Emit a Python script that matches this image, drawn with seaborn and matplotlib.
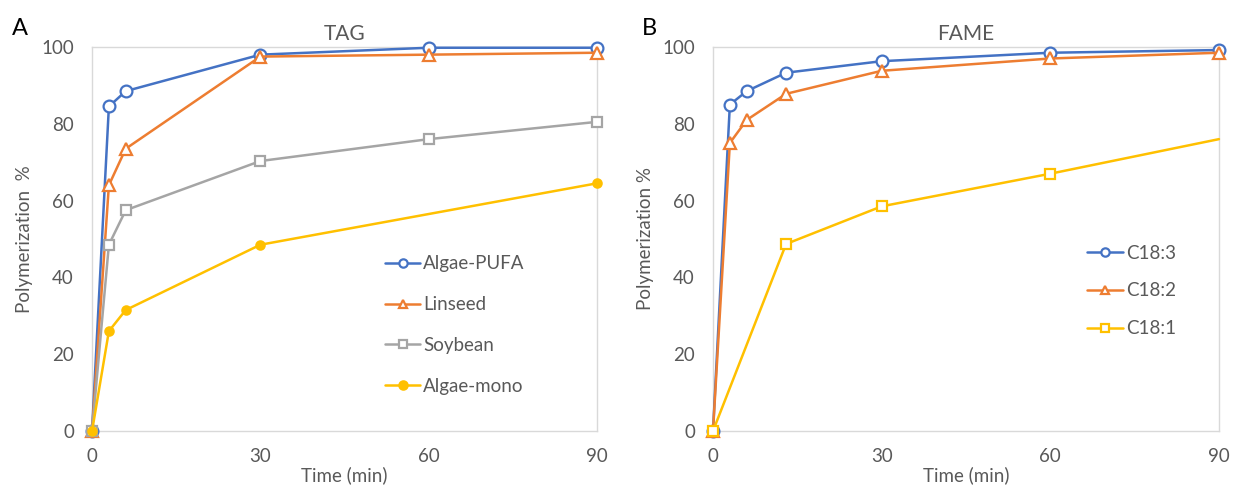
import numpy as np
import pandas as pd
import matplotlib
matplotlib.use("Agg")
import matplotlib.pyplot as plt
import seaborn as sns

# ==========================
# Dane
# ==========================
tag_time = [0, 3, 6, 30, 60, 90]
tag_algae_pufa = [0, 84.5, 88.5, 98.0, 99.8, 99.8]
tag_linseed = [0, 64.0, 73.5, 97.5, 98.0, 98.5]
tag_soybean = [0, 48.5, 57.5, 70.3, 76.0, 80.5]
tag_mono_time = [0, 3, 6, 30, 90]
tag_algae_mono = [0, 26.0, 31.5, 48.5, 64.5]

fame_time = [0, 3, 6, 13, 30, 60, 90]
fame_c183 = [0, 85.0, 88.5, 93.3, 96.3, 98.5, 99.2]
fame_c182 = [0, 75.0, 81.0, 87.8, 93.8, 97.0, 98.5]
fame_c181_time = [0, 13, 30, 60, 90]
fame_c181 = [0, 48.7, 58.5, 67.0, 76.0]

x_ticks = [0, 30, 60, 90]
y_ticks = [0, 20, 40, 60, 80, 100]

BLUE = "#4472C4"
ORANGE = "#ED7D31"
GRAY = "#A5A5A5"
GOLD = "#FFC000"
TEXT = "#595959"
FS = 13.5

sns.set_theme(style="white")
plt.rcParams['font.family'] = ['Lato', 'DejaVu Sans']


def draw_series(ax, x, y, label, color, marker, filled=False, ms=8, markevery=None):
    df = pd.DataFrame({"t": x, "v": y})
    sns.lineplot(data=df, x="t", y="v", ax=ax, color=color, label=label,
                 marker=marker, markersize=ms, linewidth=1.8,
                 markerfacecolor=color if filled else "white",
                 markeredgecolor=color, markeredgewidth=1.6,
                 markevery=markevery, clip_on=False, zorder=3)


def style_axes(ax, title):
    ax.set_xlim(0, 90)
    ax.set_ylim(0, 100)
    ax.set_xticks(x_ticks)
    ax.set_yticks(y_ticks)
    ax.tick_params(axis="both", length=0, labelsize=FS, labelcolor=TEXT)
    ax.tick_params(axis="y", pad=13)
    ax.tick_params(axis="x", pad=12)
    for sp in ax.spines.values():
        sp.set_color("#D9D9D9")
        sp.set_linewidth(1.0)
    ax.set_title(title, fontsize=15, color=TEXT, pad=5)
    ax.set_xlabel("Time (min)", fontsize=FS, color=TEXT, labelpad=1)


def style_legend(leg):
    for t in leg.get_texts():
        t.set_color(TEXT)
    for h in leg.legend_handles:
        h.set_markersize(6)


fig = plt.figure(figsize=(12.34, 4.95), dpi=100)
ax_a = fig.add_axes([0.0746, 0.1293, 0.4092, 0.7758])
ax_b = fig.add_axes([0.5778, 0.1293, 0.4100, 0.7758])

# --- Panel A: TAG ---
draw_series(ax_a, tag_time, tag_algae_pufa, "Algae-PUFA", BLUE, "o", ms=8.5)
draw_series(ax_a, tag_time, tag_linseed, "Linseed", ORANGE, "^", ms=9)
draw_series(ax_a, tag_time, tag_soybean, "Soybean", GRAY, "s", ms=7.5)
draw_series(ax_a, tag_mono_time, tag_algae_mono, "Algae-mono", GOLD, "o", filled=True, ms=6)
style_axes(ax_a, "TAG")
ax_a.set_ylabel("Polymerization  %", fontsize=FS, color=TEXT, labelpad=6)
leg = ax_a.legend(loc="lower left", bbox_to_anchor=(0.565, 0.075), frameon=False,
                  fontsize=FS, labelspacing=1.27, handlelength=1.9, handletextpad=0.15,
                  borderaxespad=0)
style_legend(leg)

# --- Panel B: FAME ---
draw_series(ax_b, fame_time, fame_c183, "C18:3", BLUE, "o", ms=8.5)
draw_series(ax_b, fame_time, fame_c182, "C18:2", ORANGE, "^", ms=9)
draw_series(ax_b, fame_c181_time, fame_c181, "C18:1", GOLD, "s", ms=7.5, markevery=[0, 1, 2, 3])
style_axes(ax_b, "FAME")
ax_b.set_ylabel("Polymerization %", fontsize=FS, color=TEXT, labelpad=6)
leg = ax_b.legend(loc="lower left", bbox_to_anchor=(0.725, 0.225), frameon=False,
                  fontsize=FS, labelspacing=1.1, handlelength=1.9, handletextpad=0.15,
                  borderaxespad=0)
style_legend(leg)

fig.text(0.010, 0.929, "A", fontsize=17, color="black")
fig.text(0.520, 0.929, "B", fontsize=17, color="black")

fig.savefig("out.png", dpi=100)
